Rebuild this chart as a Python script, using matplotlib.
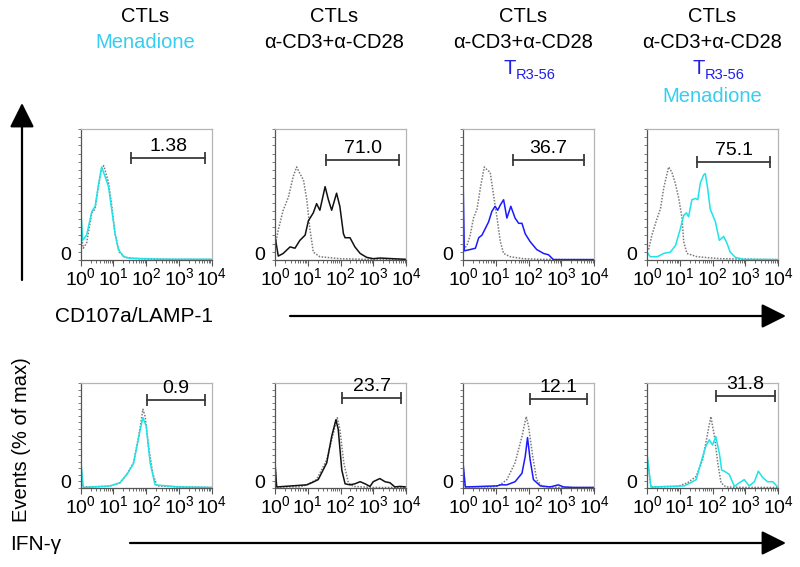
import matplotlib
matplotlib.use('Agg')
import matplotlib.pyplot as plt
import numpy as np
from matplotlib.patches import FancyArrowPatch
from matplotlib.ticker import FixedLocator

plt.rcParams['font.family'] = ['Liberation Sans', 'DejaVu Sans']
plt.rcParams['mathtext.fontset'] = 'custom'
plt.rcParams['mathtext.rm'] = 'Liberation Sans'
plt.rcParams['mathtext.it'] = 'Liberation Sans:italic'
plt.rcParams['mathtext.bf'] = 'Liberation Sans:bold'

# ---------------- data (x in log10 units, y in % of max) ----------------
# Top row: CD107a/LAMP-1
p1_ref_x = [0, 0.08, 0.18, 0.34, 0.44, 0.54, 0.64, 0.70, 0.74, 0.85, 0.95, 1.05, 1.18, 1.36, 1.61, 2.0, 3.0, 4.0]
p1_ref_y = [23, 9, 13, 36, 39, 56, 70, 72, 69, 59, 41, 20, 6, 2, 1.3, 0.8, 0.5, 0.5]
p1_x = [0, 0.06, 0.18, 0.34, 0.44, 0.54, 0.64, 0.74, 0.85, 0.95, 1.05, 1.15, 1.31, 1.51, 2.5, 4.0]
p1_y = [41, 15, 19, 37, 41, 57, 71, 64, 56, 38, 20, 8, 2.5, 1.3, 0.6, 0.5]

p2_ref_x = [0, 0.1, 0.25, 0.41, 0.56, 0.66, 0.76, 0.87, 0.97, 1.07, 1.17, 1.37, 2.0, 2.8, 4.0]
p2_ref_y = [10, 23, 38, 48, 64, 71, 66, 61, 46, 23, 6, 2.5, 1, 0.5, 0.3]
p2_x = [0, 0.1, 0.25, 0.46, 0.61, 0.76, 0.92, 1.02, 1.17, 1.27, 1.37, 1.53, 1.63, 1.73, 1.88, 1.98,
        2.09, 2.14, 2.29, 2.44, 2.6, 2.8, 3.0, 3.2, 4.0]
p2_y = [18, 3, 5, 10, 9, 15, 19, 30, 36, 43, 38, 56, 46, 38, 51, 41,
        20, 17, 17, 10, 5, 2, 1, 1.5, 0.5]

p3_ref_x = [0, 0.12, 0.22, 0.32, 0.43, 0.53, 0.65, 0.73, 0.83, 0.93, 1.04, 1.14, 1.24, 1.44, 1.85, 2.36, 4.0]
p3_ref_y = [8, 11, 19, 32, 39, 55, 71, 69, 67, 50, 32, 14, 5, 2.5, 1, 0.5, 0.3]
p3_x = [0, 0.04, 0.22, 0.38, 0.48, 0.58, 0.68, 0.78, 0.88, 0.98, 1.06, 1.14, 1.24, 1.34, 1.46, 1.59,
        1.7, 1.8, 1.9, 2.05, 2.25, 2.46, 2.61, 2.76, 4.0]
p3_y = [65, 7, 8, 9, 17, 19, 24, 29, 37, 41, 38, 42, 46, 32, 41, 32,
        28, 28, 20, 14, 8, 5, 4, 0.3, 0.3]

p4_ref_x = [0.05, 0.15, 0.31, 0.41, 0.51, 0.66, 0.76, 0.87, 0.97, 1.07, 1.12, 1.22, 1.53, 2.24, 4.0]
p4_ref_y = [8, 19, 32, 39, 55, 71, 67, 58, 47, 32, 14, 5, 2.5, 1, 0.3]
p4_x = [0, 0.1, 0.31, 0.51, 0.71, 0.87, 1.02, 1.12, 1.2, 1.27, 1.37, 1.48, 1.55, 1.63, 1.73, 1.78,
        1.85, 1.93, 2.09, 2.21, 2.34, 2.44, 2.54, 2.7, 2.95, 4.0]
p4_y = [6, 2.5, 2.5, 5, 6, 11, 24, 34, 36, 33, 46, 47, 46, 59, 65, 66,
        55, 39, 29, 15, 18, 13, 6, 2, 0.5, 0.3]

# Bottom row: IFN-gamma
p5_ref_x = [0, 0.06, 0.8, 0.9, 1.2, 1.41, 1.61, 1.77, 1.9, 1.97, 2.07, 2.2, 2.33, 3.0, 3.5, 4.0]
p5_ref_y = [27, 1, 1.5, 2, 5, 13, 24, 49, 75, 68, 40, 14, 2, 1, 1, 0.5]
p5_x = [0, 0.08, 0.9, 1.2, 1.41, 1.61, 1.82, 1.9, 2.0, 2.12, 2.27, 3.0, 4.0]
p5_y = [27, 0.5, 2, 5, 13, 23, 56, 67, 59, 24, 3, 1, 0.5]

p6_ref_x = [0, 0.05, 0.76, 0.97, 1.27, 1.58, 1.78, 1.9, 1.98, 2.1, 2.24, 2.39, 3.0, 4.0]
p6_ref_y = [24, 1, 1, 3, 8, 27, 52, 67, 56, 24, 5, 1.5, 0.5, 0.5]
p6_x = [0, 0.05, 0.97, 1.12, 1.32, 1.58, 1.73, 1.86, 1.93, 2.04, 2.14, 2.29, 2.44, 2.6, 2.75, 2.9,
        3.0, 3.2, 3.36, 3.51, 3.66, 3.82, 4.0]
p6_y = [24, 1, 3, 5, 8, 24, 49, 65, 56, 17, 4, 3, 4, 6, 4, 1.5,
        6, 9, 6, 5, 1, 1.5, 1]

p7_ref_x = [0, 0.07, 0.83, 1.09, 1.34, 1.59, 1.8, 1.93, 2.0, 2.13, 2.25, 2.41, 3.0, 4.0]
p7_ref_y = [24, 1, 1, 2, 8, 24, 49, 68, 59, 30, 8, 1.5, 0.5, 0.5]
p7_x = [0, 0.07, 1.04, 1.14, 1.34, 1.59, 1.8, 1.9, 1.97, 2.05, 2.15, 2.36, 2.66, 2.91, 3.07, 3.37, 4.0]
p7_y = [24, 1, 2, 3, 3, 6, 14, 30, 48, 27, 8, 2, 1, 3, 1, 0.5, 0.5]

p8_ref_x = [0, 0.12, 0.94, 1.24, 1.5, 1.7, 1.85, 1.95, 2.06, 2.16, 2.26, 2.41, 3.0, 4.0]
p8_ref_y = [32, 1, 1.5, 5, 11, 27, 52, 68, 49, 24, 5, 1, 0.5, 0.5]
p8_x = [0, 0.12, 1.14, 1.39, 1.5, 1.7, 1.8, 1.9, 2.0, 2.1, 2.21, 2.28, 2.36, 2.51, 2.67, 2.82,
        2.97, 3.12, 3.28, 3.4, 3.53, 3.68, 3.84, 3.99]
p8_y = [32, 1, 2, 6, 8, 30, 40, 46, 41, 49, 33, 17, 16, 13, 1.5, 5,
        8, 2, 6, 16, 10, 6, 6, 1]

gate_lo = [1.55, 1.56, 1.53, 1.53, 2.03, 2.05, 2.05, 2.10]
gate_hi = [3.80, 3.80, 3.70, 3.76, 3.80, 3.85, 3.80, 3.90]
gate_y = [78, 76, 76, 75, 84, 86, 85, 88]
gate_labels = ['1.38', '71.0', '36.7', '75.1', '0.9', '23.7', '12.1', '31.8']

tick_labels = ['$10^{0}$', '$10^{1}$', '$10^{2}$', '$10^{3}$', '$10^{4}$']

CYAN = '#1ee3e8'
BLUE = '#1a1aff'
BLACK = '#111111'
series_colors = [CYAN, BLACK, BLUE, CYAN, CYAN, BLACK, BLUE, CYAN]

refs = [(p1_ref_x, p1_ref_y), (p2_ref_x, p2_ref_y), (p3_ref_x, p3_ref_y), (p4_ref_x, p4_ref_y),
        (p5_ref_x, p5_ref_y), (p6_ref_x, p6_ref_y), (p7_ref_x, p7_ref_y), (p8_ref_x, p8_ref_y)]
samples = [(p1_x, p1_y), (p2_x, p2_y), (p3_x, p3_y), (p4_x, p4_y),
           (p5_x, p5_y), (p6_x, p6_y), (p7_x, p7_y), (p8_x, p8_y)]

# ---------------- figure ----------------
W, H = 800, 567
fig = plt.figure(figsize=(8, 5.67), dpi=100)


def px_axes(left, top, w, h):
    return fig.add_axes([left / W, 1 - (top + h) / H, w / W, h / H])


lefts = [80.7, 275, 463, 647]
rows = [(129, 131), (383, 105)]
FS = 14

for i in range(8):
    r, c = divmod(i, 4)
    top, h = rows[r]
    ax = px_axes(lefts[c], top, 131, h)
    ax.set_xlim(0, 4)
    ax.set_ylim(0, 100)
    rx, ry = refs[i]
    sx, sy = samples[i]
    ax.plot(rx, ry, color='#7a7a7a', ls=(0, (1, 1)), lw=1.1)
    ax.plot(sx, sy, color=series_colors[i], lw=1.1)
    # gate
    ax.plot([gate_lo[i], gate_hi[i]], [gate_y[i], gate_y[i]], color='#3a3a3a', lw=1.3,
            marker='|', markersize=8, markeredgewidth=1.3)
    ax.annotate(gate_labels[i], xy=((gate_lo[i] + gate_hi[i]) / 2, gate_y[i]), xytext=(0, 5),
                textcoords='offset points', ha='center', va='baseline', fontsize=FS)
    # spines
    for s in ['top', 'right']:
        ax.spines[s].set_color('#b5b5b5')
        ax.spines[s].set_linewidth(0.9)
    for s in ['left', 'bottom']:
        ax.spines[s].set_color('#555555')
        ax.spines[s].set_linewidth(0.9)
    ax.set_xticks(range(5))
    ax.set_xticklabels(tick_labels)
    ax.xaxis.set_minor_locator(FixedLocator([n + np.log10(k) for n in range(4) for k in range(2, 10)]))
    ax.tick_params(axis='x', which='major', length=4, width=0.8, color='#555555', labelsize=FS, pad=1)
    ax.tick_params(axis='x', which='minor', length=2, width=0.6, color='#555555')
    ax.set_yticks([])
    ax.yaxis.set_minor_locator(FixedLocator(np.arange(0, 100.1, 100 / 16)))
    ax.tick_params(axis='y', which='minor', length=2.5, width=0.6, color='#666666')
    ax.text(-15 / 131, 4 / h, '0', transform=ax.transAxes, ha='center', va='center', fontsize=FS)


def ftxt(x, y, s, **kw):
    kw.setdefault('fontsize', 14.5)
    fig.text(x / W, 1 - y / H, s, ha=kw.pop('ha', 'center'), va=kw.pop('va', 'center'), **kw)


HDR_CYAN = '#36cdf2'
HDR_BLUE = '#1f1fe6'
col_x = [145, 334, 523, 712]
for cx in col_x:
    ftxt(cx, 17, 'CTLs')
ftxt(col_x[0], 43, 'Menadione', color=HDR_CYAN)
for cx in col_x[1:]:
    ftxt(cx, 43, 'α-CD3+α-CD28')
for cx in col_x[2:]:
    ftxt(cx - 13, 69, 'T', color=HDR_BLUE, ha='center')
    ftxt(cx - 7, 75, 'R3-56', color=HDR_BLUE, ha='left', fontsize=10.5)
ftxt(col_x[3], 97, 'Menadione', color=HDR_CYAN)

# axis titles
ftxt(55, 316, 'CD107a/LAMP-1', ha='left', fontsize=15)
ftxt(10, 545, 'IFN-γ', ha='left', fontsize=15)
ftxt(22, 440, 'Events (% of max)', rotation=90, fontsize=14.5)


def farrow(x0, y0, x1, y1):
    a = FancyArrowPatch((x0 / W, 1 - y0 / H), (x1 / W, 1 - y1 / H), transform=fig.transFigure,
                        arrowstyle='-|>,head_length=1.5,head_width=0.75', mutation_scale=10,
                        lw=1.6, color='black', shrinkA=0, shrinkB=0)
    fig.add_artist(a)


farrow(22, 280, 22, 103)
farrow(290, 316, 786, 316)
farrow(130, 543, 786, 543)

fig.savefig('out.png', dpi=100)
